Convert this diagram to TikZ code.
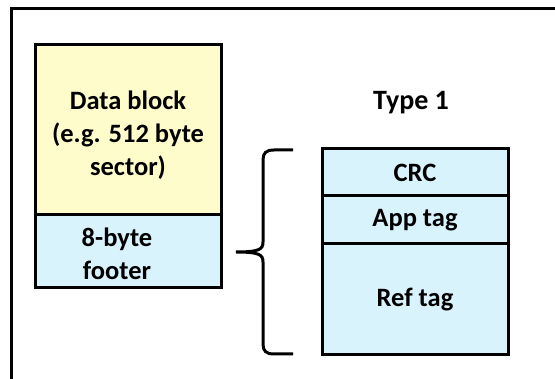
\documentclass[tikz,border=0pt]{standalone}
\usepackage{fontspec}
\setmainfont{Carlito}
\definecolor{blockyellow}{RGB}{255,252,204}
\definecolor{tagblue}{RGB}{217,243,253}
\tikzset{
    field/.style={draw, line width=3pt},
    fieldtext/.style={font=\fontsize{26.5}{33}\selectfont\bfseries, align=center, inner sep=0pt}
}

\begin{document}
\begin{tikzpicture}[x=1pt, y=-1pt]
    \useasboundingbox (0,0) rectangle (555,379);
    \clip (0,0) rectangle (555,379);
    \draw[line width=3pt] (11,9) rectangle (600,420);

    % data block with footer
    \draw[field, fill=blockyellow] (35,45) rectangle node[fieldtext, yshift=-5pt] (data) {Data block\\(e.g. 512 byte\\sector)} (221,215);
    \draw[field, fill=tagblue] (35,215) rectangle node[fieldtext, xshift=-11pt, yshift=-2pt] (footer) {8-byte\\footer} (221,288);

    % type 1 footer layout
    \node[fieldtext, font=\fontsize{28}{33}\selectfont\bfseries] (type) at (411,103) {Type 1};
    \draw[field, fill=tagblue] (322,149) rectangle node[fieldtext] (crc) {CRC} (508,196);
    \draw[field, fill=tagblue] (322,196) rectangle node[fieldtext] (app) {App tag} (508,244);
    \draw[field, fill=tagblue] (322,244) rectangle node[fieldtext] (ref) {Ref tag} (508,355);

    % brace
    \draw[line width=3pt] (293,150) -- (274,150) .. controls (266,150) and (263,153) .. (263,160)
        -- (263,242) .. controls (263,249) and (260,252) .. (236,252)
        (236,252) .. controls (260,252) and (263,255) .. (263,262)
        -- (263,344) .. controls (263,351) and (266,354) .. (274,354) -- (293,354);
\end{tikzpicture}
\end{document}
